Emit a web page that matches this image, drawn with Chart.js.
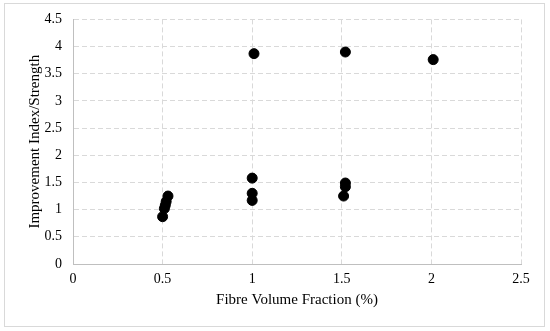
<!DOCTYPE html>
<html>
<head>
<meta charset="utf-8">
<script src="https://cdn.jsdelivr.net/npm/chart.js@4"></script>
<style>
  html, body { margin: 0; padding: 0; background: #fff; }
  #wrap { position: relative; width: 550px; height: 331px; }
</style>
</head>
<body>
<div id="wrap"><canvas id="chart" width="550" height="331"></canvas></div>
<script>
// fibre volume fraction (%) vs improvement index / strength
const fibreFraction = [0.50, 0.51, 0.515, 0.52, 0.53, 1.0, 1.0, 1.0, 1.01, 1.51, 1.52, 1.52, 1.52, 2.01];
const improvement   = [0.87, 1.02, 1.08, 1.15, 1.25, 1.17, 1.30, 1.58, 3.87, 1.25, 1.42, 1.49, 3.90, 3.76];

const xTicks = [0, 0.5, 1, 1.5, 2, 2.5];
const yTicks = [0, 0.5, 1, 1.5, 2, 2.5, 3, 3.5, 4, 4.5];

const points = fibreFraction.map((x, i) => ({ x: x, y: improvement[i] }));

const frame = {
  id: 'frame',
  beforeDraw(chart) {
    const c = chart.ctx;
    c.save();
    c.fillStyle = '#fff';
    c.fillRect(0, 0, chart.width, chart.height);
    c.strokeStyle = '#d9d9d9';
    c.lineWidth = 1;
    c.strokeRect(4.5, 3.5, 540, 323);
    c.restore();
  }
};

const serif = "'Liberation Serif', 'Times New Roman', serif";
const tickFont = { family: serif, size: 14 };

const ctx = document.getElementById('chart').getContext('2d');
new Chart(ctx, {
  type: 'scatter',
  data: {
    datasets: [{
      data: points,
      backgroundColor: '#000',
      borderColor: '#000',
      pointRadius: 5,
      pointHoverRadius: 5
    }]
  },
  options: {
    responsive: false,
    animation: false,
    layout: { padding: { left: 20, top: 19, right: 29, bottom: 22 } },
    plugins: { legend: { display: false }, tooltip: { enabled: false } },
    scales: {
      x: {
        type: 'linear',
        min: 0,
        max: 2.5,
        afterBuildTicks: (axis) => { axis.ticks = xTicks.map(v => ({ value: v })); },
        afterFit: (axis) => { axis.height = 45; },
        ticks: { color: '#000', font: tickFont, padding: 7, maxRotation: 0, callback: (v) => String(v) },
        grid: { color: '#d9d9d9', drawTicks: false },
        border: { display: true, color: '#bfbfbf', dash: [5, 3] },
        title: {
          display: true,
          text: 'Fibre Volume Fraction (%)',
          color: '#000',
          font: { family: serif, size: 15 },
          padding: { top: 4, bottom: 0 }
        }
      },
      y: {
        type: 'linear',
        min: 0,
        max: 4.5,
        afterBuildTicks: (axis) => { axis.ticks = yTicks.map(v => ({ value: v })); },
        afterFit: (axis) => { axis.width = 53; },
        ticks: { color: '#000', font: tickFont, padding: 11, callback: (v) => String(v) },
        grid: { color: '#d9d9d9', drawTicks: false },
        border: { display: true, color: '#bfbfbf', dash: [5, 3] },
        title: {
          display: true,
          text: 'Improvement Index/Strength',
          color: '#000',
          font: { family: serif, size: 15 },
          padding: { top: 6, bottom: 0 }
        }
      }
    }
  },
  plugins: [frame]
});
</script>
</body>
</html>
